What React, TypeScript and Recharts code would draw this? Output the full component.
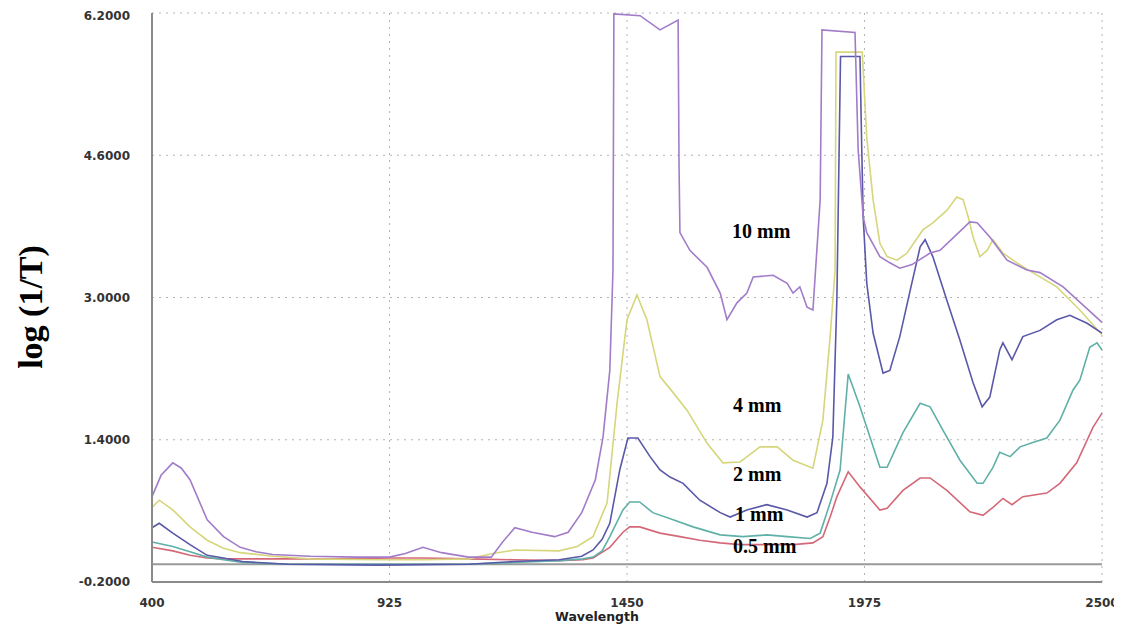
import { CartesianGrid, Line, LineChart, ReferenceLine, XAxis, YAxis } from "recharts"

// wavelength (nm), log(1/T)
const mm10: [number, number][] = [
  [400, 0.76], [420, 1.0], [446, 1.14], [465, 1.08], [484, 0.95], [522, 0.5], [558, 0.31], [595, 0.19],
  [630, 0.14], [667, 0.11], [750, 0.09], [850, 0.08], [925, 0.08], [960, 0.12], [999, 0.19], [1040, 0.13],
  [1100, 0.08], [1150, 0.08], [1175, 0.25], [1202, 0.41], [1240, 0.36], [1290, 0.31], [1320, 0.36],
  [1350, 0.58], [1380, 0.95], [1397, 1.43], [1412, 2.18], [1419, 3.31], [1421, 6.19], [1479, 6.17],
  [1523, 6.01], [1563, 6.12], [1565, 4.5], [1567, 3.73], [1589, 3.53], [1627, 3.34], [1656, 3.05],
  [1671, 2.75], [1693, 2.94], [1715, 3.05], [1729, 3.23], [1773, 3.25], [1804, 3.16], [1817, 3.05],
  [1832, 3.12], [1848, 2.89], [1861, 2.86], [1877, 4.1], [1881, 6.01], [1954, 5.98], [1961, 4.66],
  [1972, 3.91], [1980, 3.73], [2009, 3.46], [2031, 3.39], [2053, 3.33], [2080, 3.37], [2120, 3.5],
  [2142, 3.53], [2208, 3.85], [2224, 3.84], [2252, 3.68], [2290, 3.42], [2334, 3.31], [2363, 3.28],
  [2414, 3.12], [2500, 2.72],
]

const mm4: [number, number][] = [
  [400, 0.64], [416, 0.72], [446, 0.61], [484, 0.42], [522, 0.27], [558, 0.18], [595, 0.13], [667, 0.09],
  [750, 0.06], [900, 0.05], [1000, 0.05], [1100, 0.06], [1154, 0.12], [1202, 0.16], [1300, 0.15],
  [1340, 0.2], [1362, 0.27], [1375, 0.31], [1397, 0.58], [1406, 0.69], [1428, 1.81], [1450, 2.75],
  [1472, 3.03], [1494, 2.75], [1523, 2.11], [1552, 1.93], [1583, 1.73], [1627, 1.36], [1662, 1.14],
  [1700, 1.15], [1744, 1.32], [1782, 1.32], [1817, 1.17], [1861, 1.08], [1883, 1.62], [1899, 2.56],
  [1910, 3.31], [1912, 5.76], [1970, 5.76], [1980, 4.8], [1994, 4.1], [2009, 3.61], [2025, 3.46],
  [2047, 3.42], [2069, 3.5], [2104, 3.76], [2126, 3.84], [2157, 3.98], [2179, 4.13], [2193, 4.1],
  [2204, 3.91], [2215, 3.68], [2230, 3.46], [2246, 3.53], [2259, 3.65], [2281, 3.5], [2312, 3.39],
  [2347, 3.28], [2400, 3.12], [2451, 2.86], [2500, 2.58],
]

const mm2: [number, number][] = [
  [400, 0.41], [416, 0.46], [446, 0.35], [484, 0.22], [522, 0.1], [558, 0.07], [600, 0.03], [700, 0.0],
  [900, -0.01], [1100, 0.0], [1200, 0.03], [1300, 0.05], [1350, 0.09], [1375, 0.16], [1395, 0.28],
  [1412, 0.46], [1434, 1.06], [1452, 1.42], [1474, 1.42], [1501, 1.21], [1523, 1.06], [1545, 0.98],
  [1574, 0.91], [1611, 0.72], [1656, 0.58], [1678, 0.53], [1715, 0.61], [1759, 0.67], [1804, 0.61],
  [1848, 0.53], [1870, 0.58], [1892, 0.91], [1905, 1.43], [1914, 3.0], [1922, 5.71], [1965, 5.71],
  [1969, 4.66], [1972, 3.91], [1980, 3.16], [1994, 2.6], [2016, 2.15], [2031, 2.18], [2053, 2.56],
  [2076, 3.08], [2098, 3.57], [2109, 3.65], [2126, 3.46], [2157, 2.97], [2186, 2.52], [2215, 2.04],
  [2235, 1.77], [2252, 1.88], [2274, 2.41], [2281, 2.49], [2301, 2.3], [2325, 2.56], [2363, 2.63],
  [2400, 2.75], [2429, 2.8], [2467, 2.71], [2500, 2.6],
]

const mm1: [number, number][] = [
  [400, 0.25], [446, 0.2], [484, 0.14], [522, 0.08], [558, 0.05], [600, 0.02], [700, 0.0], [900, 0.0],
  [1100, 0.0], [1200, 0.02], [1300, 0.04], [1352, 0.06], [1375, 0.08], [1395, 0.15], [1412, 0.31],
  [1441, 0.61], [1456, 0.7], [1478, 0.7], [1507, 0.58], [1552, 0.5], [1596, 0.42], [1656, 0.33],
  [1706, 0.31], [1759, 0.33], [1804, 0.31], [1855, 0.29], [1877, 0.35], [1899, 0.69], [1921, 1.06],
  [1939, 2.14], [1965, 1.77], [2009, 1.09], [2025, 1.09], [2060, 1.48], [2098, 1.81], [2120, 1.77],
  [2148, 1.51], [2186, 1.17], [2224, 0.91], [2237, 0.91], [2259, 1.09], [2274, 1.26], [2297, 1.21],
  [2319, 1.32], [2347, 1.37], [2378, 1.42], [2407, 1.62], [2436, 1.96], [2451, 2.07], [2473, 2.44],
  [2489, 2.49], [2500, 2.41],
]

const mm05: [number, number][] = [
  [400, 0.19], [446, 0.15], [484, 0.1], [522, 0.07], [558, 0.06], [650, 0.06], [800, 0.06], [925, 0.07],
  [1000, 0.07], [1100, 0.06], [1200, 0.05], [1300, 0.04], [1352, 0.05], [1375, 0.07], [1412, 0.19],
  [1441, 0.36], [1456, 0.42], [1478, 0.42], [1523, 0.35], [1567, 0.31], [1611, 0.27], [1656, 0.24],
  [1700, 0.22], [1759, 0.22], [1817, 0.22], [1861, 0.24], [1883, 0.31], [1899, 0.53], [1914, 0.76],
  [1939, 1.04], [1965, 0.87], [2009, 0.61], [2025, 0.63], [2060, 0.83], [2098, 0.97], [2120, 0.97],
  [2157, 0.83], [2208, 0.59], [2237, 0.55], [2259, 0.64], [2281, 0.74], [2301, 0.67], [2325, 0.76],
  [2378, 0.8], [2407, 0.91], [2444, 1.14], [2480, 1.54], [2500, 1.7],
]

const xTicks = [400, 925, 1450, 1975, 2500]
const yTicks = [-0.2, 1.4, 3.0, 4.6, 6.2]

const series = [
  { name: "0.5 mm", points: mm05, color: "#d46878" },
  { name: "1 mm", points: mm1, color: "#5fb0a8" },
  { name: "4 mm", points: mm4, color: "#d6d67c" },
  { name: "2 mm", points: mm2, color: "#5a58a8" },
  { name: "10 mm", points: mm10, color: "#a27cc8" },
]

const toRows = (pts: [number, number][]) => pts.map(([w, v]) => ({ w, v }))

const tickStyle = { fontFamily: "DejaVu Sans", fontWeight: 700, fontSize: 12, fill: "#333" }
const noteStyle = { fontFamily: "Liberation Serif", fontWeight: 700, fontSize: 20, fill: "#000" }

export default function App() {
  return (
    <div style={{ position: "relative", width: 1114, height: 619 }}>
      <LineChart width={1114} height={619} margin={{ top: 5, right: 20, bottom: 15, left: 0 }}>
        <CartesianGrid stroke="#b4b4b4" strokeDasharray="2 5" />
        <XAxis
          dataKey="w"
          type="number"
          domain={[400, 2500]}
          ticks={xTicks}
          height={30}
          tickLine={false}
          tickMargin={10}
          axisLine={{ stroke: "#8a8a8a", strokeWidth: 2 }}
          tick={tickStyle}
          allowDuplicatedCategory={false}
        />
        <YAxis
          type="number"
          domain={[-0.2, 6.2]}
          ticks={yTicks}
          width={144}
          tickLine={false}
          tickMargin={16}
          axisLine={{ stroke: "#8a8a8a", strokeWidth: 2 }}
          tick={tickStyle}
          tickFormatter={(v: number) => v.toFixed(4)}
        />
        <ReferenceLine y={0} stroke="#9a9a9a" strokeWidth={2} />
        {series.map((s) => (
          <Line
            key={s.name}
            data={toRows(s.points)}
            dataKey="v"
            type="linear"
            stroke={s.color}
            strokeWidth={1.6}
            dot={false}
            isAnimationActive={false}
          />
        ))}
      </LineChart>
      <svg
        width={1114}
        height={619}
        style={{ position: "absolute", left: 0, top: 0, pointerEvents: "none", overflow: "visible" }}
      >
        <text
          transform="translate(22,299) rotate(-90)"
          textAnchor="middle"
          dominantBaseline="central"
          fontFamily="Liberation Serif"
          fontWeight={700}
          fontSize={34}
        >
          log (1/T)
        </text>
        <text x={589} y={613} textAnchor="middle" {...tickStyle} fontSize={12.5} fill="#222">
          Wavelength
        </text>
        <text x={724} y={230} {...noteStyle}>10 mm</text>
        <text x={725} y={404} {...noteStyle}>4 mm</text>
        <text x={725} y={473} {...noteStyle}>2 mm</text>
        <text x={727} y={513} {...noteStyle}>1 mm</text>
        <text x={725} y={545} {...noteStyle}>0.5 mm</text>
      </svg>
    </div>
  )
}
